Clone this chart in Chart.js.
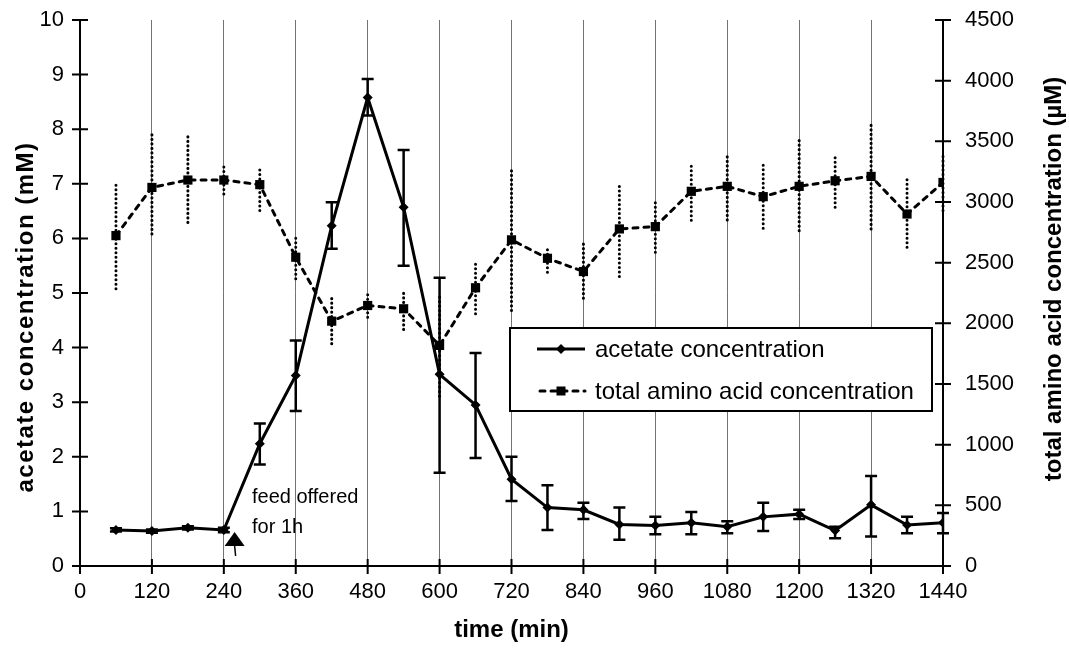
<!DOCTYPE html>
<html><head><meta charset="utf-8">
<script src="https://cdn.jsdelivr.net/npm/chart.js@4.4.1/dist/chart.umd.min.js"></script>
<style>html,body{margin:0;padding:0;background:#fff}#wrap{width:1069px;height:650px}</style>
</head><body><div id="wrap"><canvas id="c" width="1069" height="650"></canvas></div>
<script>
// ---- data ----
const times = [60,120,180,240,300,360,420,480,540,600,660,720,780,840,900,960,1020,1080,1140,1200,1260,1320,1380,1440];
const acetate     = [0.66,0.64,0.70,0.66,2.24,3.49,6.23,8.58,6.57,3.51,2.95,1.59,1.07,1.03,0.76,0.74,0.79,0.72,0.90,0.95,0.65,1.12,0.75,0.79];
const acetateLow  = [0.63,0.61,0.67,0.62,1.86,2.84,5.81,8.25,5.50,1.71,1.98,1.19,0.66,0.86,0.48,0.58,0.58,0.60,0.64,0.86,0.51,0.54,0.60,0.60];
const acetateHigh = [0.69,0.67,0.73,0.70,2.61,4.13,6.66,8.92,7.62,5.28,3.90,2.00,1.48,1.16,1.07,0.90,0.99,0.82,1.16,1.03,0.72,1.65,0.90,0.97];
const amino     = [2723,3120,3181,3181,3143,2545,2018,2147,2120,1818,2293,2688,2536,2427,2778,2797,3088,3129,3044,3129,3175,3211,2901,3161];
const aminoLow  = [2285,2737,2832,3066,2929,2367,1832,2050,1950,1400,2079,2106,2421,2207,2386,2586,2849,2852,2783,2764,2956,2778,2627,2929];
const aminoHigh = [3162,3573,3537,3305,3285,2729,2207,2243,2270,2240,2503,3263,2641,2655,3162,2997,3321,3408,3305,3518,3395,3642,3184,3395];
const xTicks = [0,120,240,360,480,600,720,840,960,1080,1200,1320,1440];
const seriesNames = ['acetate concentration','total amino acid concentration'];
const xTitle = 'time (min)';
const yTitle = 'acetate concentration (mM)';
const y2Title = 'total amino acid concentration (µM)';
const noteLines = ['feed offered','for 1h'];
const noteAt = {time: 287, y1: 1.26, y2: 0.71};   // text anchor in data units
const feedTime = 258;                              // arrow marker time (min)

const FONT = '"Liberation Sans", Arial, Helvetica, sans-serif';

const pts = (xs, ys) => xs.map((x,i)=>({x, y: ys[i]}));

const errorBars = {
  id:'errorBars',
  beforeDatasetsDraw(chart){
    const {ctx, scales:{x,y,y2}} = chart;
    ctx.save();
    ctx.strokeStyle='#000'; ctx.lineWidth=3; ctx.lineCap='round'; ctx.setLineDash([0.1,4.4]);
    times.forEach((t,i)=>{
      const px=x.getPixelForValue(t);
      ctx.beginPath(); ctx.moveTo(px,y2.getPixelForValue(aminoLow[i])); ctx.lineTo(px,y2.getPixelForValue(aminoHigh[i])); ctx.stroke();
    });
    ctx.setLineDash([]); ctx.lineCap='butt'; ctx.lineWidth=2.5;
    times.forEach((t,i)=>{
      const px=x.getPixelForValue(t), lo=y.getPixelForValue(acetateLow[i]), hi=y.getPixelForValue(acetateHigh[i]);
      ctx.beginPath(); ctx.moveTo(px,lo); ctx.lineTo(px,hi);
      ctx.moveTo(px-6,lo); ctx.lineTo(px+6,lo); ctx.moveTo(px-6,hi); ctx.lineTo(px+6,hi); ctx.stroke();
    });
    ctx.restore();
  }
};

const decor = {
  id:'decor',
  afterDraw(chart){
    const {ctx, chartArea:ca, scales:{x,y,y2}} = chart;
    ctx.save();
    ctx.strokeStyle='#000'; ctx.lineWidth=2; ctx.beginPath();
    y.ticks.forEach(t=>{const p=y.getPixelForValue(t.value); ctx.moveTo(ca.left-8,p); ctx.lineTo(ca.left+8,p);});
    y2.ticks.forEach(t=>{const p=y2.getPixelForValue(t.value); ctx.moveTo(ca.right-8,p); ctx.lineTo(ca.right+8,p);});
    x.ticks.forEach(t=>{const p=x.getPixelForValue(t.value); ctx.moveTo(p,ca.bottom-7); ctx.lineTo(p,ca.bottom+8);});
    ctx.stroke();
    ctx.fillStyle='#000'; ctx.textAlign='center'; ctx.textBaseline='middle';
    ctx.font='bold 24px '+FONT;
    ctx.save(); ctx.translate(26,317); ctx.rotate(-Math.PI/2);
    if ('letterSpacing' in ctx) ctx.letterSpacing='1.5px';
    ctx.fillText(yTitle,0,0); ctx.restore();
    ctx.save(); ctx.translate(1054,279); ctx.rotate(-Math.PI/2); ctx.fillText(y2Title,0,0); ctx.restore();
    ctx.font='20px '+FONT; ctx.textAlign='left';
    const tx=x.getPixelForValue(noteAt.time);
    ctx.fillText(noteLines[0],tx,y.getPixelForValue(noteAt.y1));
    ctx.fillText(noteLines[1],tx,y.getPixelForValue(noteAt.y2));
    const ax=x.getPixelForValue(feedTime), ab=ca.bottom-20;
    ctx.beginPath(); ctx.moveTo(ax-10,ab); ctx.lineTo(ax+10,ab); ctx.lineTo(ax,ab-14); ctx.closePath(); ctx.fill();
    ctx.lineWidth=1.5; ctx.beginPath(); ctx.moveTo(ax,ab); ctx.lineTo(ax+1,ab+10); ctx.stroke();
    const L=510,T=328,R=932,B=411;
    ctx.fillStyle='#fff'; ctx.fillRect(L,T,R-L,B-T);
    ctx.strokeStyle='#000'; ctx.lineWidth=2; ctx.strokeRect(L,T,R-L,B-T);
    const r1=349, r2=391, s0=537, s1=585, sm=561;
    ctx.lineWidth=3; ctx.beginPath(); ctx.moveTo(s0,r1); ctx.lineTo(s1,r1); ctx.stroke();
    ctx.fillStyle='#000'; ctx.beginPath(); ctx.moveTo(sm-5,r1); ctx.lineTo(sm,r1-5); ctx.lineTo(sm+5,r1); ctx.lineTo(sm,r1+5); ctx.closePath(); ctx.fill();
    ctx.setLineDash([5,6]); ctx.lineCap='round'; ctx.beginPath(); ctx.moveTo(s0+3,r2); ctx.lineTo(s1,r2); ctx.stroke(); ctx.setLineDash([]);
    ctx.fillRect(sm-4.5,r2-4.5,9,9);
    ctx.font='24px '+FONT; ctx.textBaseline='middle';
    ctx.fillText(seriesNames[0],595,r1+1); ctx.fillText(seriesNames[1],595,r2+1);
    ctx.restore();
  }
};

const plain = v => String(v);
const fitV = w => s => { s.width = w; s.paddingTop = 0; s.paddingBottom = 0; };

new Chart(document.getElementById('c'), {
  type:'line',
  data:{ datasets:[
    {label:seriesNames[0], data:pts(times,acetate), yAxisID:'y', borderColor:'#000', backgroundColor:'#000',
     borderWidth:3, pointStyle:'rectRot', pointRadius:5, pointBorderWidth:0, tension:0},
    {label:seriesNames[1], data:pts(times,amino), yAxisID:'y2', borderColor:'#000', backgroundColor:'#000',
     borderWidth:3, borderDash:[5,6], borderCapStyle:'round', pointStyle:'rect', pointRadius:6.5, pointBorderWidth:0, tension:0}
  ]},
  options:{
    responsive:false, animation:false, devicePixelRatio:1,
    layout:{padding:{top:20,left:0,right:0,bottom:0}},
    plugins:{legend:{display:false}, tooltip:{enabled:false}},
    scales:{
      x:{type:'linear', min:0, max:1440, afterBuildTicks:s=>{s.ticks=xTicks.map(v=>({value:v}));},
         ticks:{color:'#000', font:{family:FONT,size:22}, padding:13, maxRotation:0, autoSkip:false, callback:plain},
         grid:{drawTicks:false, lineWidth:1, color:c=>(c.tick && c.tick.value>0 && c.tick.value<1440)?'rgba(0,0,0,0.55)':'rgba(0,0,0,0)'},
         border:{color:'#000', width:2},
         title:{display:true, text:xTitle, color:'#000', font:{family:FONT,size:24,weight:'bold',lineHeight:1.2}, padding:{top:0,bottom:5}},
         afterFit:s=>{s.height=84; s.paddingLeft=0; s.paddingRight=0;}},
      y:{position:'left', min:0, max:10, ticks:{stepSize:1, color:'#000', font:{family:FONT,size:22}, padding:16, callback:plain},
         grid:{display:false, drawTicks:false}, border:{color:'#000', width:2},
         afterFit:fitV(80)},
      y2:{position:'right', min:0, max:4500, ticks:{stepSize:500, color:'#000', font:{family:FONT,size:22}, padding:22, callback:plain},
         grid:{display:false, drawTicks:false}, border:{color:'#000', width:2},
         afterFit:fitV(126)}
    }
  },
  plugins:[errorBars, decor]
});
</script></body></html>
